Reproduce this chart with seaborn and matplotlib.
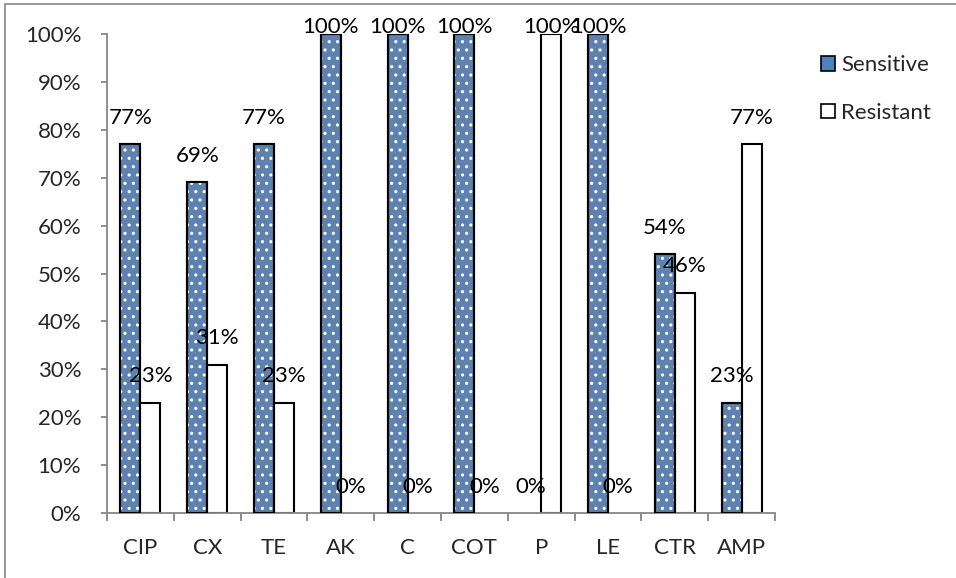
import pandas as pd
import numpy as np
import matplotlib
matplotlib.use("Agg")
import matplotlib.pyplot as plt
import seaborn as sns
from matplotlib.patches import Rectangle, Patch
from matplotlib.ticker import PercentFormatter

# ─────────────────────────────────────────────
# Données
# ─────────────────────────────────────────────
antibiotics = ["CIP", "CX", "TE", "AK", "C", "COT", "P", "LE", "CTR", "AMP"]
sensitive = [77, 69, 77, 100, 100, 100, 0, 100, 54, 23]
resistant = [23, 31, 23, 0, 0, 0, 100, 0, 46, 77]
series = ["Sensitive", "Resistant"]

blue = "#4F81BD"
grey = "#868686"
fs = 16

df = pd.DataFrame({
    "antibiotic": antibiotics * 2,
    "status": ["Sensitive"] * len(antibiotics) + ["Resistant"] * len(antibiotics),
    "value": sensitive + resistant,
})

sns.set_style("white")
plt.rcParams["font.family"] = ["Lato", "DejaVu Sans"]
plt.rcParams["hatch.linewidth"] = 1.1

fig = plt.figure(figsize=(9.56, 5.78), dpi=100)
ax = fig.add_axes([107 / 956, 65 / 578, 668 / 956, 479 / 578])

sns.barplot(data=df, x="antibiotic", y="value", hue="status", hue_order=series,
            order=antibiotics, palette={"Sensitive": blue, "Resistant": "white"},
            width=0.6, gap=0, edgecolor="black", linewidth=1.5, legend=False, ax=ax)

# étiquettes de valeurs au-dessus des barres
for cont, vals in zip(ax.containers, [sensitive, resistant]):
    for bar, v in zip(cont, vals):
        if v == 0:
            bar.set_linewidth(0)
        xc = bar.get_x() + bar.get_width() / 2
        ax.text(xc, min(v + 5.5, 101.5), f"{v}%", ha="center", va="center",
                fontsize=fs, color="black", clip_on=False, zorder=5)

# motif en pointillés blancs sur les barres "Sensitive"
for bar in ax.containers[0]:
    if bar.get_height() > 0:
        dots = Rectangle((bar.get_x(), bar.get_y()), bar.get_width(), bar.get_height(),
                         facecolor="none", edgecolor="white", hatch="..", linewidth=0, zorder=3)
        ax.add_patch(dots)
        outline = Rectangle((bar.get_x(), bar.get_y()), bar.get_width(), bar.get_height(),
                            facecolor="none", edgecolor="black", linewidth=1.5, zorder=4)
        ax.add_patch(outline)

# ─────────────────────────────────────────────
# Axes
# ─────────────────────────────────────────────
ax.set_ylim(0, 100)
ax.set_xlim(-0.5, len(antibiotics) - 0.5)
ax.set_yticks(np.arange(0, 101, 10))
ax.yaxis.set_major_formatter(PercentFormatter(decimals=0))
ax.set_xticks(np.arange(-0.5, len(antibiotics), 1))
ax.set_xticklabels([])
ax.set_xticks(np.arange(len(antibiotics)), minor=True)
ax.set_xticklabels(antibiotics, minor=True)
ax.tick_params(axis="x", which="major", length=6, width=1.3, color=grey, direction="out", bottom=True)
ax.tick_params(axis="x", which="minor", length=0, pad=18, labelsize=fs)
ax.tick_params(axis="y", length=4.5, width=1.3, color=grey, direction="out", left=True, pad=14, labelsize=fs)
ax.set_xlabel("")
ax.set_ylabel("")
for s in ["top", "right"]:
    ax.spines[s].set_visible(False)
for s in ["left", "bottom"]:
    ax.spines[s].set_color(grey)
    ax.spines[s].set_linewidth(1.3)

# ─────────────────────────────────────────────
# Légende
# ─────────────────────────────────────────────
handles = [Patch(facecolor=blue, edgecolor="black", linewidth=1.2),
           Patch(facecolor="white", edgecolor="black", linewidth=1.2)]
fig.legend(handles, series, loc="upper left", bbox_to_anchor=(821 / 956, 1 - 55 / 578),
           frameon=False, fontsize=fs, handlelength=0.65, handleheight=0.65,
           handletextpad=0.25, labelspacing=1.25, borderpad=0, borderaxespad=0)

# cadre du graphique
fig.patches.append(Rectangle((5 / 956, -0.01), 1.0, 1 - 4 / 578 + 0.01, transform=fig.transFigure,
                             facecolor="none", edgecolor=grey, linewidth=1.2))

fig.savefig("out.png", dpi=100)
